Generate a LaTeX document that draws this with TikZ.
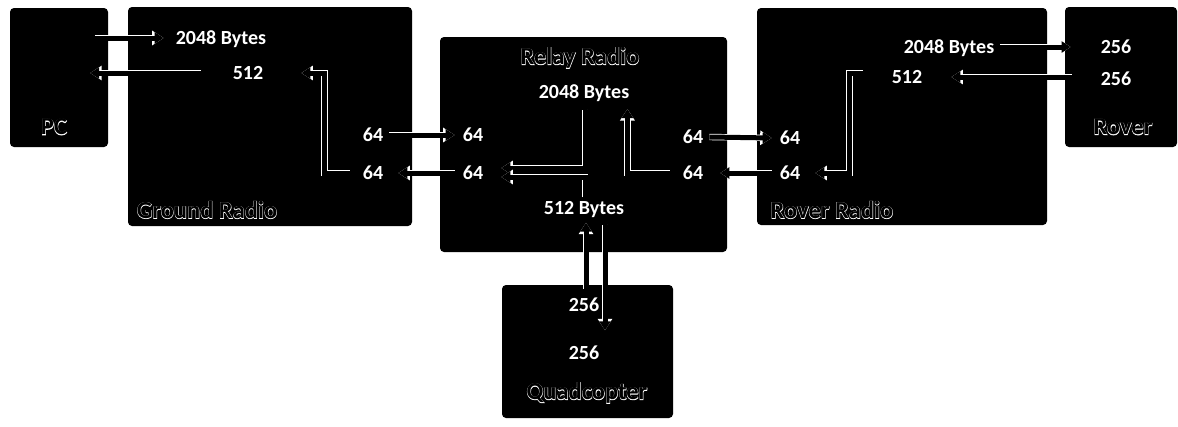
\documentclass[tikz,border=0pt]{standalone}
\usepackage{fontspec}
\setmainfont{Carlito}
\newfontfamily\titlehalo{Carlito Bold}[FakeBold=3]
\newfontfamily\titlecore{Carlito Bold}
\usetikzlibrary{calc,arrows.meta}

\tikzset{
  box/.style={fill=black, draw=none, rounded corners=4pt, inner sep=0pt},
  lbl/.style={text=white, inner sep=0pt, text height=13pt, text depth=0pt,
              font=\bfseries\fontsize{20}{20}\selectfont},
  halo/.style={text=white, inner sep=0pt, font=\titlehalo\fontsize{24.5}{24.5}\selectfont},
  ttl/.style={text=black, inner sep=0pt, font=\titlecore\fontsize{24.5}{24.5}\selectfont},
  flow/.style={draw=black, line width=5pt, -{Triangle[length=9pt,width=11pt]},
               preaction={draw=white, line width=6.4pt, -{Triangle[length=11.5pt,width=14pt]}}},
}
% hollow (outlined) title: white halo underneath, black letters on top
\newcommand\boxtitle[3]{%
  \node[halo] at (#2) {#3};
  \node[ttl] (#1) at (#2) {#3};}

\begin{document}
\begin{tikzpicture}[x=1pt,y=-1pt]
\path[use as bounding box] (0,0) rectangle (1178,426);

% blocks
\node[box, minimum width=98pt,  minimum height=139pt] (pc)    at (59,77.5)    {};
\node[box, minimum width=284pt, minimum height=219pt] (gnd)   at (270,116.5)  {};
\node[box, minimum width=287pt, minimum height=215pt] (relay) at (583.5,144.5){};
\node[box, minimum width=290pt, minimum height=217pt] (rradio) at (902,116.5) {};
\node[box, minimum width=112pt, minimum height=140pt] (rover) at (1121,77)    {};
\node[box, minimum width=171pt, minimum height=133pt] (quad)  at (587.5,351.5){};

% buffer sizes
\node[lbl] (g2048) at (221,38)  {2048 Bytes};
\node[lbl] (g512)  at (248,73)  {512};
\node[lbl] (g64a)  at (373,135) {64};
\node[lbl] (g64b)  at (373,173) {64};

\node[lbl] (r2048) at (584,92)  {2048 Bytes};
\node[lbl] (r512)  at (584,208) {512 Bytes};
\node[lbl] (rl64a) at (473,135) {64};
\node[lbl] (rl64b) at (473,173) {64};
\node[lbl] (rr64a) at (693,137) {64};
\node[lbl] (rr64b) at (693,173) {64};

\node[lbl] (v2048) at (949,47)  {2048 Bytes};
\node[lbl] (v512)  at (907,77)  {512};
\node[lbl] (v64a)  at (790,138) {64};
\node[lbl] (v64b)  at (790,173) {64};

\node[lbl] (o256a) at (1116,47) {256};
\node[lbl] (o256b) at (1116,79) {256};

\node[lbl] (q256a) at (584,305) {256};
\node[lbl] (q256b) at (584,353) {256};

% data paths
\draw[flow] ($(pc.east |- g2048.west)+(-13,0)$) -- ($(g2048.west)+(-12,0)$);
\draw[flow] ($(g512.west)+(-32,0)$) -- ($(pc.east |- g512.west)+(-18,0)$);
\draw[flow] ($(g64b.west)+(-13,0)$) -- ++(-25,0) |- ($(g512.east)+(38,0)$);
\draw[flow] ($(g64a.east)+(6,0)$) -- ($(rl64a.west)+(-8,0)$);
\draw[flow] ($(rl64b.west)+(-8,0)$) -- ($(g64b.east)+(15,0)$);

\draw[flow] ($(r2048.south)+(1,11)$) |- ($(rl64b.east)+(18,-5)$);
\draw[flow] ($(r512.north)+(1,-4)$) |- ($(rl64b.east)+(18,4)$);
\draw[flow] ($(rr64b.west)+(-13,0)$) -| ($(r2048.east)+(-2,17)$);
\draw[flow] ($(rr64a.east)+(6,0)$) -- ($(v64a.west)+(-8,0)$);
\draw[flow] ($(v64b.west)+(-8,0)$) -- ($(rr64b.east)+(17,0)$);

\draw[flow] ($(v512.west)+(-29,-4)$) -- ++(-13,0) |- ($(v64b.east)+(15,0)$);
\draw[flow] ($(v2048.east)+(6,0)$) -- ($(o256a.west)+(-30,0)$);
\draw[flow] ($(o256b.west |- v512.east)+(-29,0)$) -- ($(v512.east)+(29,0)$);

\draw[flow] ($(r512.south |- quad.north)+(2,4)$) -- ($(r512.south)+(2,8)$);
\draw[flow] ($(r512.south)+(21,10)$) -- ($(r512.south |- q256b.north)+(21,-16)$);

% block names
\boxtitle{tpc}{54,127}{PC}
\boxtitle{tgnd}{207,210}{Ground Radio}
\boxtitle{trelay}{580,58}{Relay Radio}
\boxtitle{trradio}{832,210}{Rover Radio}
\boxtitle{trover}{1123,127}{Rover}
\boxtitle{tquad}{587,393}{Quadcopter}
\end{tikzpicture}
\end{document}
